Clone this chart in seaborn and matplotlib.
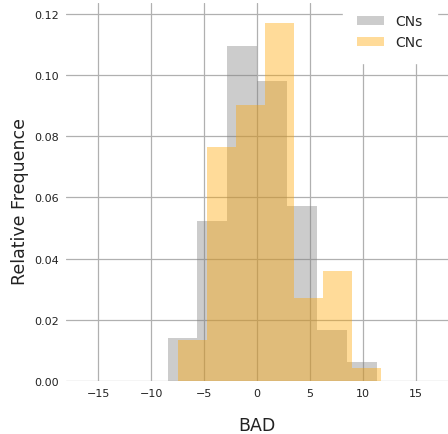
import numpy as np
import pandas as pd
import matplotlib
matplotlib.use("Agg")
import matplotlib.pyplot as plt
import seaborn as sns

# bin edges and density heights
cns_edges = [-8.45, -5.63, -2.81, 0.01, 2.83, 5.65, 8.47, 11.30]
cns_density = [0.0140, 0.0524, 0.1096, 0.0982, 0.0572, 0.0166, 0.0061]

cnc_edges = [-7.51, -4.76, -2.02, 0.73, 3.48, 6.22, 8.97, 11.71]
cnc_density = [0.0133, 0.0765, 0.0901, 0.1172, 0.0270, 0.0358, 0.0042]

x_ticks = [-15, -10, -5, 0, 5, 10, 15]
y_ticks = [0.00, 0.02, 0.04, 0.06, 0.08, 0.10, 0.12]

sns.set_style("whitegrid")
plt.rcParams["font.family"] = ["DejaVu Sans"]

fig, ax = plt.subplots(figsize=(4.48, 4.35), dpi=100)
fig.subplots_adjust(left=0.148, right=1.0, top=0.99, bottom=0.122)

cns = pd.DataFrame({"BAD": np.convolve(cns_edges, [0.5, 0.5], "valid"), "w": cns_density})
cnc = pd.DataFrame({"BAD": np.convolve(cnc_edges, [0.5, 0.5], "valid"), "w": cnc_density})

sns.histplot(data=cns, x="BAD", weights="w", bins=cns_edges, color="grey",
             alpha=0.4, linewidth=0, label="CNs", ax=ax)
sns.histplot(data=cnc, x="BAD", weights="w", bins=cnc_edges, color="orange",
             alpha=0.4, linewidth=0, label="CNc", ax=ax)

ax.set_xlim(-18, 18)
ax.set_ylim(0, 0.1235)
ax.set_xticks(x_ticks)
ax.set_yticks(y_ticks)
ax.set_yticklabels([f"{v:.2f}" for v in y_ticks])
ax.grid(True, color="#b0b0b0", linewidth=0.9)
for s in ax.spines.values():
    s.set_visible(False)
ax.tick_params(axis="both", which="major", labelsize=8, length=3, width=0.8,
               color="#222222", labelcolor="#222222", pad=2)
ax.set_xlabel("BAD", fontsize=12.5, labelpad=13, color="#222222")
ax.set_ylabel("Relative Frequence", fontsize=12.5, labelpad=4, color="#222222")
ax.yaxis.label.set_y(0.479)

leg = ax.legend(loc="upper right", bbox_to_anchor=(0.99, 1.026), fontsize=10,
                frameon=True, framealpha=1, borderpad=1.0,
                edgecolor="white", facecolor="white")

fig.savefig("out.png", dpi=100)
